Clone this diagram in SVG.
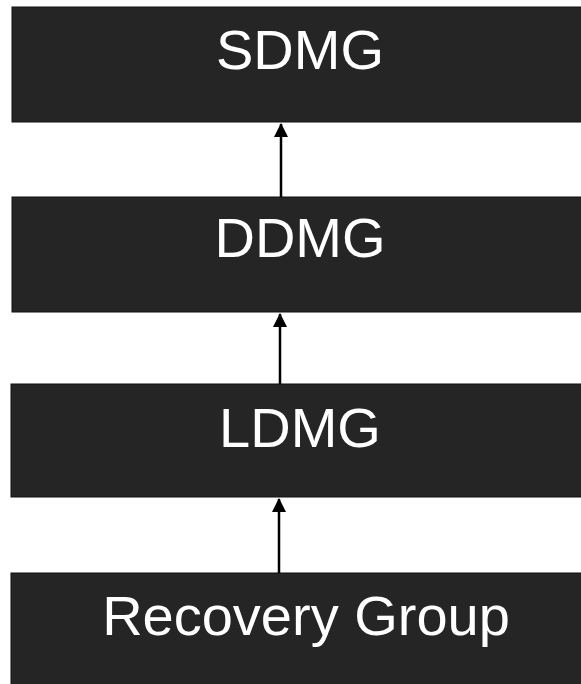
<svg xmlns="http://www.w3.org/2000/svg" width="581" height="684" viewBox="0 0 581 684">
<style>
.box{fill:#252525;stroke:#111;stroke-width:1}
.lbl{font-family:"Liberation Sans",Arial,sans-serif;font-size:56px;fill:#fff;text-anchor:middle}
.conn{stroke:#000;stroke-width:2.5;fill:none}
</style>
<defs>
<marker id="ah" viewBox="0 0 14 14" refX="13" refY="7" markerWidth="14" markerHeight="14" markerUnits="userSpaceOnUse" orient="auto">
<path d="M0,0 L14,7 L0,14 Z" fill="#000"/>
</marker>
</defs>
<rect width="581" height="684" fill="#fff"/>
<g id="sdmg">
<rect class="box" x="12" y="7" width="575" height="115"/>
<text class="lbl" x="300" y="69">SDMG</text>
</g>
<g id="ddmg">
<rect class="box" x="12" y="197" width="575" height="115"/>
<text class="lbl" x="300" y="257">DDMG</text>
</g>
<g id="ldmg">
<rect class="box" x="11" y="384" width="576" height="113"/>
<text class="lbl" x="300" y="447">LDMG</text>
</g>
<g id="recovery">
<rect class="box" x="11" y="573" width="576" height="115"/>
<text class="lbl" x="306" y="635">Recovery Group</text>
</g>
<g id="connectors">
<line class="conn" x1="281" y1="197" x2="281" y2="124" marker-end="url(#ah)"/>
<line class="conn" x1="280" y1="384" x2="280" y2="314" marker-end="url(#ah)"/>
<line class="conn" x1="279" y1="573" x2="279" y2="499" marker-end="url(#ah)"/>
</g>
</svg>
